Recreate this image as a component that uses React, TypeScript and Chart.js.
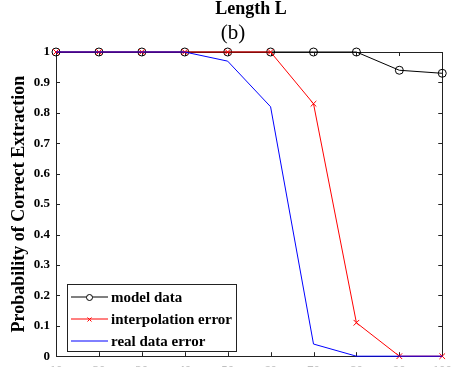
import { useEffect, useRef } from 'react';
import { Chart, registerables } from 'chart.js';

Chart.register(...registerables);

const lengths = [10, 20, 30, 40, 50, 60, 70, 80, 90, 100];
const modelData = [1, 1, 1, 1, 1, 1, 1, 1, 0.94, 0.93];
const interpolationError = [1, 1, 1, 1, 1, 1, 0.83, 0.11, 0, 0];
const realDataError = [1, 1, 1, 1, 0.97, 0.82, 0.04, 0, 0, 0];
const xTicks = [10, 20, 30, 40, 50, 60, 70, 80, 90, 100];
const yTicks = [0, 0.1, 0.2, 0.3, 0.4, 0.5, 0.6, 0.7, 0.8, 0.9, 1];
const seriesLabels = ['model data', 'interpolation error', 'real data error'];
const seriesColors = ['#000000', '#ff0000', '#0000ff'];
const seriesMarkers = ['circle', 'cross', 'none'];
const titleText = 'Length L';
const subtitleText = '(b)';
const yTitleText = 'Probability of Correct Extraction';

const SERIF = '"Liberation Serif", "Times New Roman", serif';

const framePlugin = {
  id: 'frame',
  beforeDatasetsDraw(chart: any) {
    const { ctx, chartArea } = chart;
    const { left, right, top, bottom } = chartArea;
    const xs = chart.scales.x;
    const ys = chart.scales.y;
    ctx.save();
    ctx.strokeStyle = '#222';
    ctx.lineWidth = 1;
    ctx.strokeRect(Math.round(left) + 0.5, Math.round(top) + 0.5, Math.round(right - left), Math.round(bottom - top));
    const tl = 4;
    ctx.beginPath();
    xTicks.forEach((v) => {
      const px = Math.round(xs.getPixelForValue(v)) + 0.5;
      ctx.moveTo(px, bottom);
      ctx.lineTo(px, bottom - tl);
      ctx.moveTo(px, top);
      ctx.lineTo(px, top + tl);
    });
    yTicks.forEach((v) => {
      const py = Math.round(ys.getPixelForValue(v)) + 0.5;
      ctx.moveTo(left, py);
      ctx.lineTo(left + tl, py);
      ctx.moveTo(right, py);
      ctx.lineTo(right - tl, py);
    });
    ctx.stroke();

    // titles
    ctx.fillStyle = '#000';
    ctx.textAlign = 'center';
    ctx.textBaseline = 'alphabetic';
    ctx.font = `bold 18px ${SERIF}`;
    ctx.fillText(titleText, 251, 14);
    ctx.font = `21px ${SERIF}`;
    ctx.fillText(subtitleText, 233, 39);
    ctx.restore();
  },
  afterDraw(chart: any) {
    const { ctx } = chart;
    ctx.save();
    const lx = 67, ly = 284, lw = 169, lh = 67;
    ctx.fillStyle = '#fff';
    ctx.fillRect(lx, ly, lw, lh);
    ctx.strokeStyle = '#222';
    ctx.lineWidth = 1;
    ctx.strokeRect(lx + 0.5, ly + 0.5, lw, lh);
    const rows = [297, 319, 341];
    seriesLabels.forEach((label, i) => {
      const y = rows[i] + 0.5;
      const color = seriesColors[i];
      ctx.strokeStyle = color;
      ctx.lineWidth = 1;
      ctx.beginPath();
      ctx.moveTo(71, rows[i]);
      ctx.lineTo(108, rows[i]);
      ctx.stroke();
      const cx = 89.5;
      if (seriesMarkers[i] === 'circle') {
        ctx.fillStyle = '#fff';
        ctx.beginPath();
        ctx.arc(cx, y, 3, 0, Math.PI * 2);
        ctx.fill();
        ctx.stroke();
      } else if (seriesMarkers[i] === 'cross') {
        ctx.beginPath();
        ctx.moveTo(cx - 2, y - 2);
        ctx.lineTo(cx + 2, y + 2);
        ctx.moveTo(cx + 2, y - 2);
        ctx.lineTo(cx - 2, y + 2);
        ctx.stroke();
      }
      ctx.fillStyle = '#000';
      ctx.textAlign = 'left';
      ctx.textBaseline = 'middle';
      ctx.font = `bold 15px ${SERIF}`;
      ctx.fillText(label, 111, rows[i] + 1);
    });
    ctx.restore();
  },
};

export default function App() {
  const ref = useRef<HTMLCanvasElement>(null);
  useEffect(() => {
    if (!ref.current) return;
    const chart = new Chart(ref.current, {
      type: 'line',
      data: {
        datasets: [
          {
            label: seriesLabels[0],
            data: lengths.map((x, i) => ({ x, y: modelData[i] })),
            borderColor: seriesColors[0],
            backgroundColor: 'rgba(0,0,0,0)',
            borderWidth: 1,
            pointStyle: 'circle',
            pointRadius: 4,
            pointBorderWidth: 1,
            pointBackgroundColor: 'rgba(0,0,0,0)',
            pointBorderColor: seriesColors[0],
            clip: false,
            order: 3,
          },
          {
            label: seriesLabels[1],
            data: lengths.map((x, i) => ({ x, y: interpolationError[i] })),
            borderColor: seriesColors[1],
            backgroundColor: 'rgba(0,0,0,0)',
            borderWidth: 1,
            pointStyle: 'crossRot',
            pointRadius: 4,
            pointBorderWidth: 1,
            pointBorderColor: seriesColors[1],
            clip: false,
            order: 2,
          },
          {
            label: seriesLabels[2],
            data: lengths.map((x, i) => ({ x, y: realDataError[i] })),
            borderColor: seriesColors[2],
            backgroundColor: 'rgba(0,0,0,0)',
            borderWidth: 1,
            pointRadius: 0,
            clip: false,
            order: 1,
          },
        ],
      },
      options: {
        responsive: false,
        animation: false,
        layout: { padding: { top: 52, right: 11, left: 0, bottom: 0 } },
        plugins: { legend: { display: false }, tooltip: { enabled: false }, title: { display: false } },
        scales: {
          x: {
            type: 'linear',
            min: 10,
            max: 100,
            afterFit: (s: any) => { s.height = 10; },
            afterBuildTicks: (s: any) => { s.ticks = xTicks.map((v) => ({ value: v })); },
            grid: { display: false, drawTicks: false },
            border: { display: false },
            ticks: { color: '#000', padding: 7, maxRotation: 0, autoSkip: false, font: { family: SERIF, size: 13, weight: 'bold' } },
          },
          y: {
            type: 'linear',
            min: 0,
            max: 1,
            afterFit: (s: any) => { s.width = 56; },
            afterBuildTicks: (s: any) => { s.ticks = yTicks.map((v) => ({ value: v })); },
            grid: { display: false, drawTicks: false },
            border: { display: false },
            ticks: { color: '#000', padding: 6, autoSkip: false, font: { family: SERIF, size: 13, weight: 'bold' }, callback: (v: any) => String(Math.round(Number(v) * 10) / 10) },
            title: { display: true, text: yTitleText, color: '#000', padding: { top: 9, bottom: 0 }, font: { family: SERIF, size: 18, weight: 'bold' } },
          },
        },
      },
      plugins: [framePlugin],
    } as any);
    return () => chart.destroy();
  }, []);
  return (
    <div style={{ position: 'absolute', left: 0, top: 0, width: 459, height: 370, background: '#fff' }}>
      <canvas ref={ref} width={459} height={370} style={{ display: 'block' }} />
    </div>
  );
}
